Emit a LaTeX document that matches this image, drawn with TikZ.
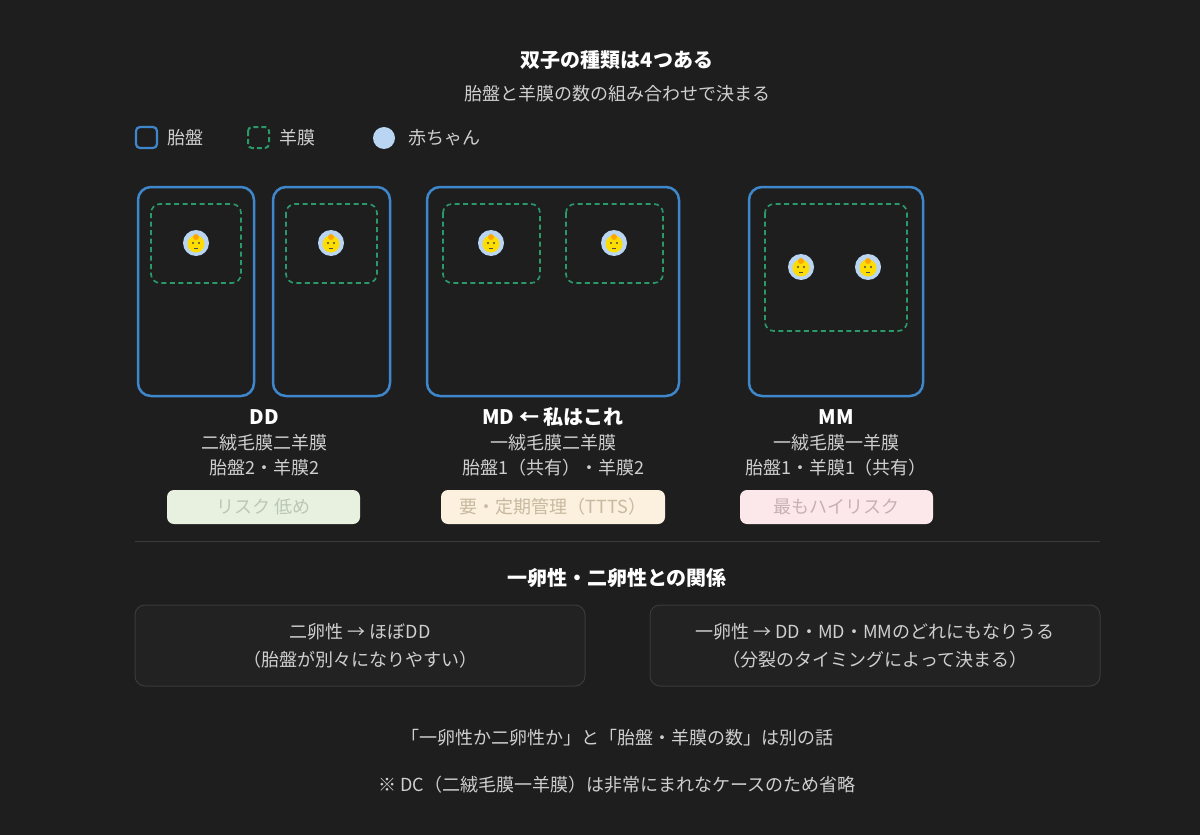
\documentclass[tikz,border=0pt]{standalone}
\usepackage{fontspec}
\setmainfont{Noto Sans CJK JP}
\definecolor{bg}{HTML}{1E1E1E}
\definecolor{pl}{HTML}{3F87CC}
\definecolor{am}{HTML}{2A9A6A}
\definecolor{bb}{HTML}{B9D5F2}
\definecolor{tx}{HTML}{CFCFCF}
\definecolor{sep}{HTML}{3A3A3A}
\definecolor{g1}{HTML}{E8F1DF}
\definecolor{g1t}{HTML}{BCC6B4}
\definecolor{o1}{HTML}{FCF0DE}
\definecolor{o1t}{HTML}{C8BAA0}
\definecolor{r1}{HTML}{FCE8EA}
\definecolor{r1t}{HTML}{C8B0B2}
\definecolor{relf}{HTML}{222222}
\begin{document}
\begin{tikzpicture}[x=1pt,y=-1pt,
 plac/.style={draw=pl,line width=2.5pt,rounded corners=13pt},
 amn/.style={draw=am,line width=1.7pt,dash pattern=on 5pt off 3.5pt,rounded corners=9pt},
 t/.style={text=tx,font=\fontsize{18}{20}\selectfont,inner sep=0pt},
 h/.style={text=white,font=\fontsize{20}{24}\selectfont\bfseries,inner sep=0pt},
 badge/.style={rounded corners=7pt,inner sep=0pt},
 rel/.style={draw=sep,fill=relf,rounded corners=10pt,line width=1pt},
 baby/.pic={\fill[bb] (0,0) circle (13);
   \fill[yellow!80!orange] (0,1) circle (8.5);
   \fill[orange!70!yellow] (0,-6) circle (3);
   \fill[black!70] (-3,0) circle (1.1) (3,0) circle (1.1);
   \draw[black!70,line width=0.8pt] (-2,5) -- (2,5);}
]
\fill[bg] (0,0) rectangle (1200,835);
\node[h] (title) at (617,60) {双子の種類は4つある};
\node[t] (sub) at (617,94) {胎盤と羊膜の数の組み合わせで決まる};
% legend
\draw[plac,line width=2.2pt,rounded corners=4pt] (136,127) rectangle (157,148);
\node[t,anchor=west] (l1) at (167,138) {胎盤};
\draw[amn,line width=2pt,rounded corners=4pt,dash pattern=on 5pt off 3pt] (248,127) rectangle (269,148);
\node[t,anchor=west] (l2) at (279,138) {羊膜};
\fill[bb] (384,138) circle (11);
\node[t,anchor=west] (l3) at (408,138) {赤ちゃん};
% DD
\draw[plac] (138,187) rectangle (254,396);
\draw[plac] (273,187) rectangle (390,396);
\draw[amn] (151,204) rectangle (241,283);
\draw[amn] (286,204) rectangle (377,283);
\pic at (196,243) {baby};
\pic at (331,243) {baby};
% MD
\draw[plac] (427,187) rectangle (679,396);
\draw[amn] (443,204) rectangle (540,283);
\draw[amn] (566,204) rectangle (663,283);
\pic at (491,243) {baby};
\pic at (614,243) {baby};
% MM
\draw[plac] (749,187) rectangle (923,396);
\draw[amn] (765,204) rectangle (907,331);
\pic at (801,267) {baby};
\pic at (868,267) {baby};
% labels
\node[h] (dd) at (264,417) {DD};
\node[t] (dd1) at (264,443) {二絨毛膜二羊膜};
\node[t] (dd2) at (264,468) {胎盤2・羊膜2};
\fill[badge,fill=g1] (167,490) rectangle (360,524);
\node[t,text=g1t] (b1) at (263.5,507) {リスク 低め};
\node[h] (md) at (553,417) {MD ← 私はこれ};
\node[t] (md1) at (553,443) {一絨毛膜二羊膜};
\node[t] (md2) at (553,468) {胎盤1（共有）・羊膜2};
\fill[badge,fill=o1] (441,490) rectangle (665,524);
\node[t,text=o1t] (b2) at (553,507) {要・定期管理（TTTS）};
\node[h] (mm) at (836,417) {MM};
\node[t] (mm1) at (836,443) {一絨毛膜一羊膜};
\node[t] (mm2) at (836,468) {胎盤1・羊膜1（共有）};
\fill[badge,fill=r1] (740,490) rectangle (933,524);
\node[t,text=r1t] (b3) at (836.5,507) {最もハイリスク};
% separator
\draw[sep,line width=1pt] (135,541) -- (1100,541);
\node[h] (rt) at (617,578) {一卵性・二卵性との関係};
\draw[rel] (135,605) rectangle (585,686);
\draw[rel] (650,605) rectangle (1100,686);
\node[t] (r1a) at (360,632) {二卵性 → ほぼDD};
\node[t] (r1b) at (360,660) {（胎盤が別々になりやすい）};
\node[t] (r2a) at (875,632) {一卵性 → DD・MD・MMのどれにもなりうる};
\node[t] (r2b) at (875,660) {（分裂のタイミングによって決まる）};
\node[t] (n1) at (617,738) {「一卵性か二卵性か」と「胎盤・羊膜の数」は別の話};
\node[t] (n2) at (617,785) {※ DC（二絨毛膜一羊膜）は非常にまれなケースのため省略};
\end{tikzpicture}
\end{document}
